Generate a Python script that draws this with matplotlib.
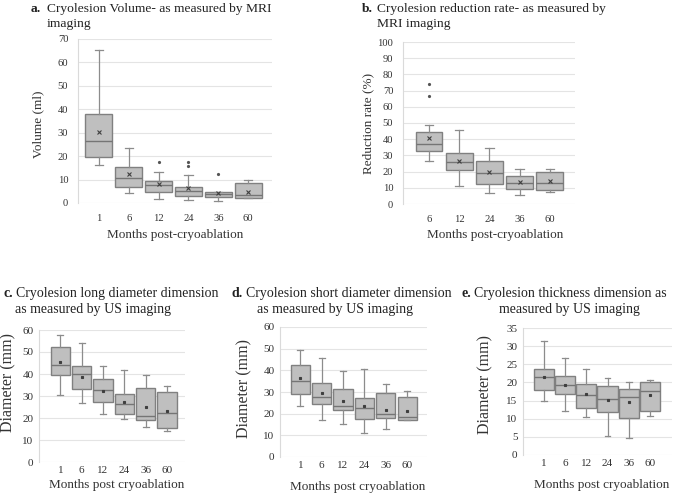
import matplotlib
matplotlib.use('Agg')
import matplotlib.pyplot as plt

plt.rcParams['font.family'] = ['Liberation Serif', 'DejaVu Serif']

W, H = 685, 496

# ---------------- data ----------------
a_months = ['1', '6', '12', '24', '36', '60']
a_low = [16.2, 4.2, 1.7, 1.1, 0.8, 2.0]
a_q1 = [19.5, 6.8, 4.6, 2.9, 2.5, 2.0]
a_med = [26.3, 10.5, 7.5, 5.0, 3.8, 3.4]
a_q3 = [38.0, 15.5, 9.3, 7.0, 4.6, 8.5]
a_high = [65.3, 23.3, 13.4, 11.8, 4.8, 9.9]
a_mean = [30.3, 12.2, 8.1, 6.2, 4.1, 4.7]
a_out = [[], [], [17.5], [17.3, 16.0], [12.5], []]

b_months = ['6', '12', '24', '36', '60']
b_low = [26.3, 11.3, 7.0, 5.6, 7.6]
b_q1 = [32.9, 21.2, 12.1, 9.1, 8.4]
b_med = [36.8, 25.9, 19.3, 13.2, 13.0]
b_q3 = [44.4, 31.3, 26.7, 17.5, 19.9]
b_high = [48.8, 45.9, 34.8, 21.4, 21.4]
b_mean = [41.0, 26.5, 19.6, 13.4, 14.0]
b_out = [[73.8, 66.8], [], [], [], []]

c_months = ['1', '6', '12', '24', '36', '60']
c_low = [30.6, 26.8, 21.7, 19.4, 15.9, 14.2]
c_q1 = [39.6, 33.2, 27.3, 22.0, 19.1, 15.6]
c_med = [44.1, 39.9, 32.9, 26.4, 21.1, 22.2]
c_q3 = [52.3, 43.8, 37.9, 30.9, 33.7, 31.8]
c_high = [57.8, 53.9, 43.6, 41.9, 39.4, 34.7]
c_mean = [45.3, 38.6, 32.4, 27.3, 24.8, 23.2]

d_months = ['1', '6', '12', '24', '36', '60']
d_low = [23.4, 16.9, 15.4, 11.1, 12.8, 16.9]
d_q1 = [29.2, 24.6, 21.5, 17.7, 18.0, 16.9]
d_med = [34.9, 27.7, 23.4, 22.8, 19.8, 18.5]
d_q3 = [42.6, 34.0, 31.5, 27.2, 29.5, 27.5]
d_high = [49.5, 45.8, 39.5, 40.8, 33.8, 30.3]
d_mean = [36.5, 29.5, 25.7, 23.5, 21.8, 21.1]

e_months = ['1', '6', '12', '24', '36', '60']
e_low = [14.9, 12.0, 10.4, 5.2, 4.8, 10.7]
e_q1 = [17.9, 16.9, 12.9, 11.9, 10.3, 12.1]
e_med = [21.5, 19.2, 16.4, 15.3, 16.0, 17.7]
e_q3 = [23.8, 21.9, 19.7, 19.1, 18.3, 20.0]
e_high = [31.5, 26.7, 23.7, 21.1, 20.1, 20.6]
e_mean = [21.5, 19.2, 16.8, 15.2, 14.5, 16.6]

# ---------------- helpers ----------------
fig = plt.figure(figsize=(W / 100, H / 100), dpi=100)


def rect(l, t, r, b):
    return [l / W, 1 - b / H, (r - l) / W, (b - t) / H]


def fx(x):
    return x / W


def fy(y):
    return 1 - y / H


def make_stats(labels, lo, q1, med, q3, hi, mean, out=None):
    stats = []
    for i, lab in enumerate(labels):
        stats.append(dict(label=lab, whislo=lo[i], q1=q1[i], med=med[i], q3=q3[i],
                          whishi=hi[i], mean=mean[i],
                          fliers=(out[i] if out is not None else [])))
    return stats


def panel(r, stats, xlim, ylim, yticks, width, capw, tick_fs, pad_y, pad_x, mean_marker, mean_ms):
    ax = fig.add_axes(rect(*r))
    n = len(stats)
    ax.bxp(stats, positions=list(range(n)), widths=width, capwidths=capw,
           patch_artist=True, showmeans=True, showfliers=True,
           boxprops=dict(facecolor='#BFBFBF', edgecolor='#808080', linewidth=1.0),
           medianprops=dict(color='#757575', linewidth=1.0),
           whiskerprops=dict(color='#8C8C8C', linewidth=0.9),
           capprops=dict(color='#8C8C8C', linewidth=0.9),
           meanprops=dict(marker=mean_marker, markeredgecolor='#3F3F3F',
                          markerfacecolor='#3F3F3F', markersize=mean_ms, markeredgewidth=0.8),
           flierprops=dict(marker='o', markerfacecolor='#555555', markeredgecolor='none',
                           markersize=2.3))
    ax.set_xlim(*xlim)
    ax.set_ylim(*ylim)
    ax.set_yticks(yticks)
    ax.yaxis.grid(True, color='#E4E4E4', linewidth=0.8)
    ax.set_axisbelow(True)
    for s in ['top', 'right', 'bottom']:
        ax.spines[s].set_visible(False)
    ax.spines['left'].set_color('#DADADA')
    ax.spines['left'].set_linewidth(0.8)
    ax.tick_params(axis='both', length=0, labelsize=tick_fs, colors='#333333')
    ax.tick_params(axis='y', pad=pad_y)
    ax.tick_params(axis='x', pad=pad_x)
    ax.set_facecolor('white')
    return ax


# ---------------- panel a ----------------
panel((78, 39, 272, 203),
      make_stats(a_months, a_low, a_q1, a_med, a_q3, a_high, a_mean, a_out),
      (-0.7, 5.8), (0, 70), list(range(0, 71, 10)), 0.9, 0.28, 7.6, 7, 8, 'x', 3.2)

# ---------------- panel b ----------------
panel((403, 42, 575, 204),
      make_stats(b_months, b_low, b_q1, b_med, b_q3, b_high, b_mean, b_out),
      (-0.86, 4.83), (0, 100), list(range(0, 101, 10)), 0.89, 0.28, 7.6, 7, 8, 'x', 3.2)

# ---------------- panel c ----------------
panel((39, 330, 185, 462),
      make_stats(c_months, c_low, c_q1, c_med, c_q3, c_high, c_mean),
      (-1.0, 5.84), (0, 60), list(range(0, 61, 10)), 0.9, 0.28, 8, 4, 3, 's', 1.5)

# ---------------- panel d ----------------
panel((280, 327, 427, 457),
      make_stats(d_months, d_low, d_q1, d_med, d_q3, d_high, d_mean),
      (-0.95, 5.93), (0, 60), list(range(0, 61, 10)), 0.9, 0.28, 8, 4, 3, 's', 1.5)

# ---------------- panel e ----------------
panel((523, 328, 672, 455),
      make_stats(e_months, e_low, e_q1, e_med, e_q3, e_high, e_mean),
      (-0.97, 6.03), (0, 35), list(range(0, 36, 5)), 0.95, 0.28, 8, 4, 3, 's', 1.5)

# ---------------- titles ----------------
tc = '#222222'


def title(letter, lx, tx, y1, line1, x2, y2, line2, fs):
    fig.text(fx(lx), fy(y1), letter, fontsize=fs, fontweight='bold', color=tc, va='baseline')
    fig.text(fx(tx), fy(y1), line1, fontsize=fs, color=tc, va='baseline')
    fig.text(fx(x2), fy(y2), line2, fontsize=fs, color=tc, va='baseline')


title('a.', 31, 47, 12, 'Cryolesion Volume- as measured by MRI', 47, 27, 'imaging', 9.7)
title('b.', 362, 377, 12, 'Cryolesion reduction rate- as measured by', 377, 27, 'MRI imaging', 9.7)
title('c.', 3, 16, 297, 'Cryolesion long diameter dimension', 15, 313, 'as measured by US imaging', 10)
title('d.', 232, 246, 297, 'Cryolesion short diameter dimension', 257, 313, 'as measured by US imaging', 10)
title('e.', 461, 474, 297, 'Cryolesion thickness dimension as', 499, 313, 'measured by US imaging', 10)

# ---------------- axis labels ----------------
lc = '#333333'
fig.text(fx(175), fy(235), 'Months post-cryoablation', fontsize=9.5, color=lc, ha='center', va='center')
fig.text(fx(495), fy(235), 'Months post-cryoablation', fontsize=9.5, color=lc, ha='center', va='center')
fig.text(fx(117), fy(485), 'Months post cryoablation', fontsize=9.5, color=lc, ha='center', va='center')
fig.text(fx(358), fy(487), 'Months post cryoablation', fontsize=9.5, color=lc, ha='center', va='center')
fig.text(fx(602), fy(485), 'Months post cryoablation', fontsize=9.5, color=lc, ha='center', va='center')

fig.text(fx(38), fy(124), 'Volume (ml)', fontsize=9.5, color=lc, rotation=90, ha='center', va='center')
fig.text(fx(368), fy(123), 'Reduction rate (%)', fontsize=9.5, color=lc, rotation=90, ha='center', va='center')
fig.text(fx(8), fy(383), 'Diameter (mm)', fontsize=11.5, color=lc, rotation=90, ha='center', va='center')
fig.text(fx(244), fy(388), 'Diameter (mm)', fontsize=11.5, color=lc, rotation=90, ha='center', va='center')
fig.text(fx(485), fy(384), 'Diameter (mm)', fontsize=11.5, color=lc, rotation=90, ha='center', va='center')

fig.savefig('out.png', dpi=100, facecolor='white')
